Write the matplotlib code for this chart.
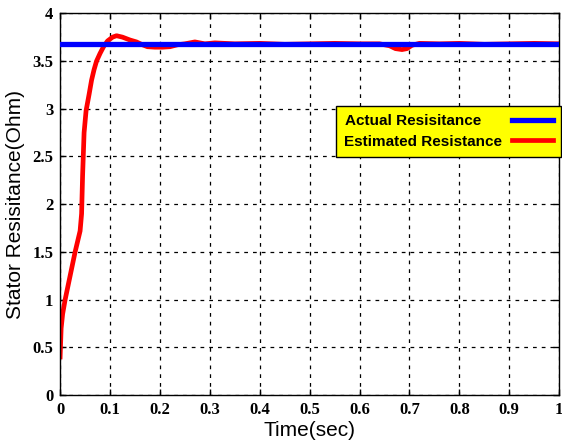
import matplotlib.pyplot as plt

# datos
t_act = [0.0, 1.0]
r_act = [3.675, 3.675]

t_est = [0.0, 0.002, 0.005, 0.01, 0.02, 0.03, 0.04, 0.043, 0.045, 0.048, 0.052,
         0.058, 0.063, 0.068, 0.073, 0.08, 0.087, 0.095, 0.105, 0.113, 0.125,
         0.14, 0.153, 0.165, 0.175, 0.19, 0.205, 0.22, 0.235, 0.25, 0.27, 0.29,
         0.31, 0.35, 0.4, 0.45, 0.5, 0.55, 0.6, 0.64, 0.66, 0.672, 0.685, 0.695,
         0.705, 0.72, 0.76, 0.8, 0.85, 0.9, 0.95, 1.0]
r_est = [0.4, 0.7, 0.85, 1.0, 1.25, 1.5, 1.72, 1.9, 2.3, 2.75, 2.98,
         3.15, 3.3, 3.41, 3.5, 3.58, 3.65, 3.71, 3.75, 3.765, 3.75,
         3.72, 3.70, 3.67, 3.65, 3.645, 3.645, 3.65, 3.67, 3.68, 3.70, 3.68,
         3.69, 3.68, 3.685, 3.675, 3.68, 3.685, 3.68, 3.68, 3.66, 3.63, 3.62, 3.63,
         3.665, 3.685, 3.68, 3.685, 3.675, 3.68, 3.685, 3.68]

fig = plt.figure(figsize=(5.62, 4.43), dpi=100)
ax = plt.gca()
ax.plot(t_act, r_act, color='blue', linewidth=3.8, label='Actual Resisitance', zorder=3)
ax.plot(t_est, r_est, color='red', linewidth=3.4, label='Estimated Resistance', zorder=2)

ax.set_xlim(0, 1)
ax.set_ylim(0, 4)
ax.set_xticks([0, 0.1, 0.2, 0.3, 0.4, 0.5, 0.6, 0.7, 0.8, 0.9, 1])
ax.set_xticklabels(['0', '0.1', '0.2', '0.3', '0.4', '0.5', '0.6', '0.7', '0.8', '0.9', '1'])
ax.set_yticks([0, 0.5, 1, 1.5, 2, 2.5, 3, 3.5, 4])
ax.set_yticklabels(['0', '0.5', '1', '1.5', '2', '2.5', '3', '3.5', '4'])
for lab in ax.get_xticklabels() + ax.get_yticklabels():
    lab.set_fontfamily('Liberation Serif')
    lab.set_fontweight('bold')
    lab.set_fontsize(12)
ax.tick_params(direction='in', top=True, right=True, length=4, width=1, pad=5)
ax.grid(True, color='black', linestyle=(0, (3, 4)), linewidth=0.9)

ax.set_xlabel('Time(sec)', fontsize=15, fontfamily='Liberation Sans', labelpad=2)
ax.set_ylabel('Stator Resisitance(Ohm)', fontsize=15, fontfamily='Liberation Sans', labelpad=5)
for s in ax.spines.values():
    s.set_linewidth(1.0)

leg = ax.legend(loc='upper right', bbox_to_anchor=(1.004, 0.757), markerfirst=False,
                facecolor='yellow', edgecolor='black', framealpha=1, fancybox=False,
                prop={'family': 'Liberation Sans', 'weight': 'bold', 'size': 11},
                handlelength=2.7, borderpad=0.55, labelspacing=0.4, handletextpad=0.6,
                borderaxespad=0.0)
leg.get_frame().set_linewidth(1.0)

plt.subplots_adjust(left=0.107, right=0.995, top=0.97, bottom=0.108)

# alinear los textos a la izquierda rellenando con espacios
fig.canvas.draw()
r = fig.canvas.get_renderer()
txts = leg.get_texts()
wmax = max(t.get_window_extent(r).width for t in txts)
for t in txts:
    while t.get_window_extent(r).width < wmax - 2:
        t.set_text(t.get_text() + ' ')

plt.savefig('out.png', dpi=100)
